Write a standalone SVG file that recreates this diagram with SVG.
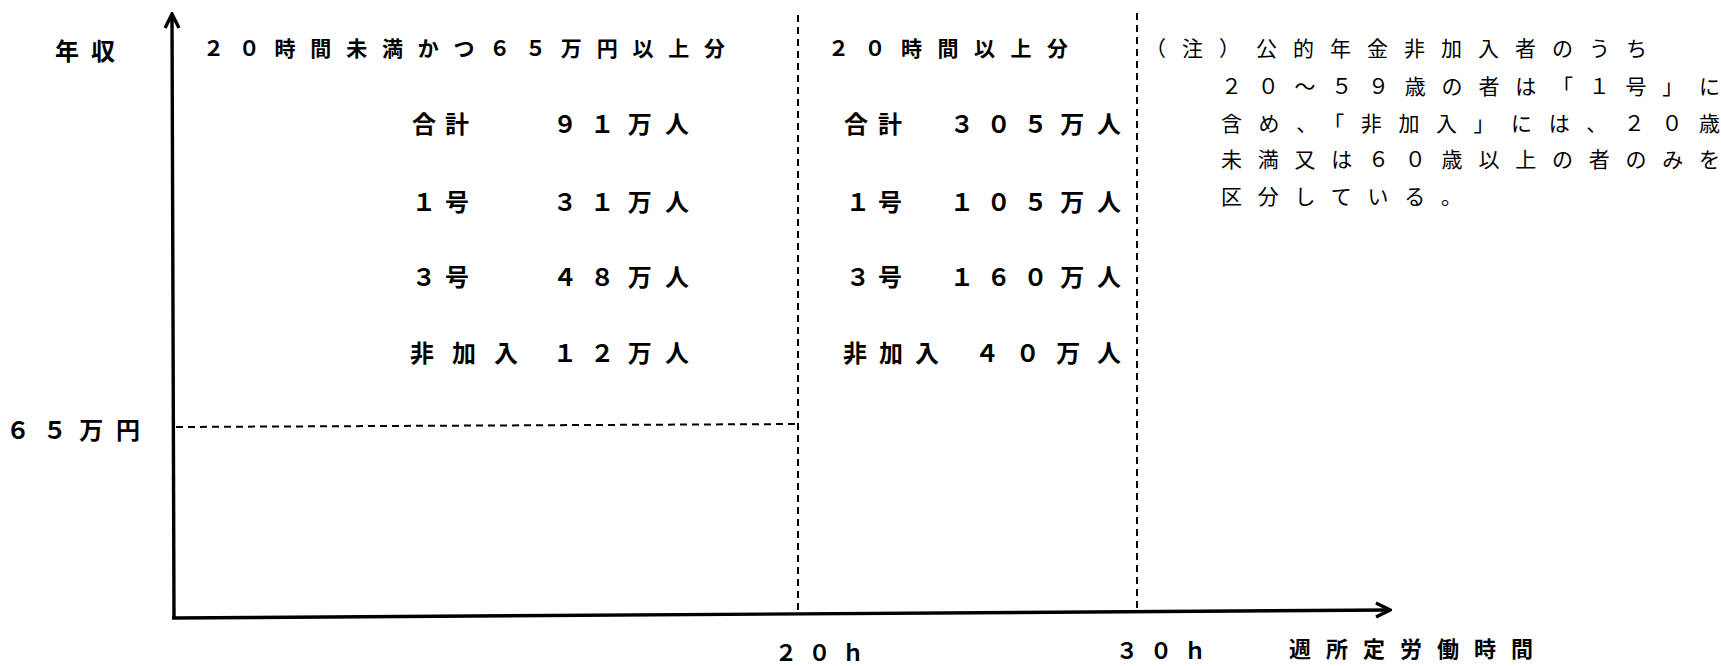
<svg xmlns="http://www.w3.org/2000/svg" width="1721" height="666" viewBox="0 0 1721 666">
<style>
text{font-family:"Noto Sans CJK JP","Noto Sans",sans-serif;fill:#000}
.g{font-size:21px;font-weight:700}
.r{font-size:24px;font-weight:700}
.b{font-size:22px;font-weight:700}
.n{font-size:21px;font-weight:400}
.axis{stroke:#000;stroke-width:3.4;fill:none}
.dash{stroke:#000;stroke-width:2;fill:none;stroke-dasharray:7 5}
.hdash{stroke:#000;stroke-width:2;fill:none;stroke-dasharray:7 5}
</style>
<defs>
<marker id="arr" viewBox="-16 -9 18 18" refX="0" refY="0" markerWidth="18" markerHeight="18" markerUnits="userSpaceOnUse" orient="auto">
<path d="M-14,-7 L0,0 L-14,7" fill="none" stroke="#000" stroke-width="3.4" stroke-linejoin="miter"/>
</marker>
</defs>
<rect width="1721" height="666" fill="#fff"/>
<g id="connectors">
<line class="axis" x1="174" y1="618" x2="172" y2="14" marker-end="url(#arr)"/>
<line class="axis" x1="172" y1="618" x2="1390" y2="610" marker-end="url(#arr)"/>
<line class="dash" x1="798" y1="15" x2="798" y2="615"/>
<line class="dash" x1="1137" y1="13" x2="1137" y2="612"/>
<line class="hdash" x1="176" y1="427" x2="798" y2="424"/>
</g>
<g id="axis-labels">
<text class="r" x="55" y="60" textLength="60" lengthAdjust="spacing">年収</text>
<text class="r" x="6" y="439" textLength="134" lengthAdjust="spacing">６５万円</text>
<text class="b" x="775" y="661" textLength="89" lengthAdjust="spacing">２０ｈ</text>
<text class="b" x="1116" y="659" textLength="90" lengthAdjust="spacing">３０ｈ</text>
<text class="b" x="1289" y="657" textLength="244" lengthAdjust="spacing">週所定労働時間</text>
</g>
<g id="panel-under20">
<text class="g" x="203" y="56" textLength="522" lengthAdjust="spacing">２０時間未満かつ６５万円以上分</text>
<text class="r" x="412" y="133" textLength="57" lengthAdjust="spacing">合計</text>
<text class="r" x="553" y="133" textLength="136" lengthAdjust="spacing">９１万人</text>
<text class="r" x="412" y="211" textLength="57" lengthAdjust="spacing">１号</text>
<text class="r" x="553" y="211" textLength="136" lengthAdjust="spacing">３１万人</text>
<text class="r" x="412" y="286" textLength="57" lengthAdjust="spacing">３号</text>
<text class="r" x="553" y="286" textLength="136" lengthAdjust="spacing">４８万人</text>
<text class="r" x="410" y="362" textLength="108" lengthAdjust="spacing">非加入</text>
<text class="r" x="553" y="362" textLength="136" lengthAdjust="spacing">１２万人</text>
</g>
<g id="panel-over20">
<text class="g" x="828" y="56" textLength="240" lengthAdjust="spacing">２０時間以上分</text>
<text class="r" x="844" y="133" textLength="58" lengthAdjust="spacing">合計</text>
<text class="r" x="950" y="133" textLength="171" lengthAdjust="spacing">３０５万人</text>
<text class="r" x="846" y="211" textLength="56" lengthAdjust="spacing">１号</text>
<text class="r" x="950" y="211" textLength="171" lengthAdjust="spacing">１０５万人</text>
<text class="r" x="846" y="286" textLength="56" lengthAdjust="spacing">３号</text>
<text class="r" x="950" y="286" textLength="171" lengthAdjust="spacing">１６０万人</text>
<text class="r" x="843" y="362" textLength="96" lengthAdjust="spacing">非加入</text>
<text class="r" x="975" y="362" textLength="146" lengthAdjust="spacing">４０万人</text>
</g>
<g id="note">
<text class="n" x="1145" y="56" textLength="502" lengthAdjust="spacing">（注）公的年金非加入者のうち</text>
<text class="n" x="1221" y="94" textLength="499" lengthAdjust="spacing">２０～５９歳の者は「１号」に</text>
<text class="n" x="1221" y="131" textLength="499" lengthAdjust="spacing">含め、「非加入」には、２０歳</text>
<text class="n" x="1221" y="167" textLength="499" lengthAdjust="spacing">未満又は６０歳以上の者のみを</text>
<text class="n" x="1221" y="204" textLength="241" lengthAdjust="spacing">区分している。</text>
</g>
</svg>
